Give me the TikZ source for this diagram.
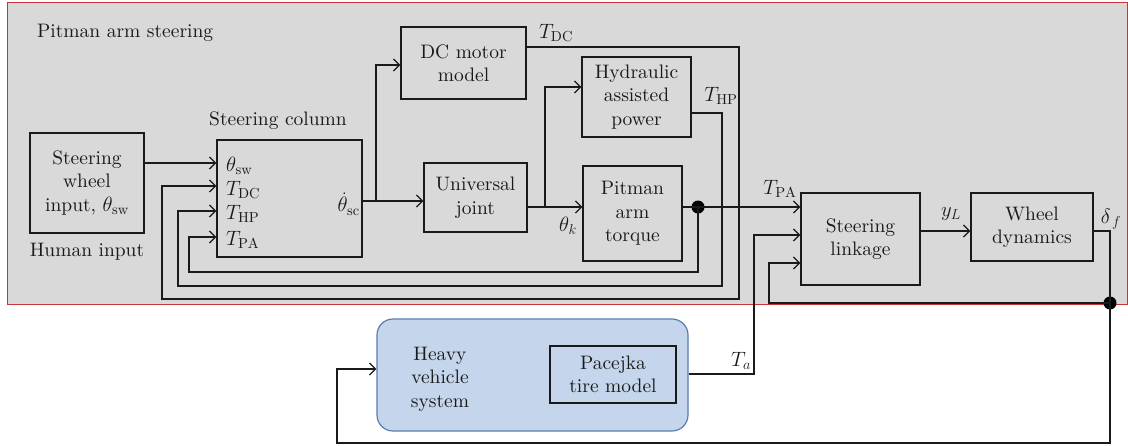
\documentclass[tikz,border=0pt]{standalone}
\usepackage{fontspec}
\setmainfont{lmroman10-regular}[Extension=.otf, ItalicFont=lmroman10-italic, BoldFont=lmroman10-bold, BoldItalicFont=lmroman10-bolditalic]
\DeclareMathSizes{19.5}{19.5}{14.5}{11}
\usetikzlibrary{arrows.meta}
\definecolor{panel}{HTML}{D9D9D9}
\definecolor{panelred}{HTML}{C9343A}
\definecolor{hvfill}{HTML}{C5D6EC}
\definecolor{hvdraw}{HTML}{5B7DB0}
\definecolor{ink}{HTML}{1A1A1A}
\begin{document}
\begin{tikzpicture}[x=1pt,y=-1pt,
  every node/.style={font=\fontsize{19.5}{23.5}\selectfont, inner sep=0pt, text=ink},
  blk/.style={draw=ink, line width=1.3pt, align=center},
  wire/.style={draw=ink, line width=1.3pt},
  arr/.style={wire, -{Straight Barb[length=6pt,width=12pt,line width=1.3pt]}},
  junc/.style={circle, fill=black, minimum size=13pt, inner sep=0pt},
]
\useasboundingbox (0,0) rectangle (1128,445);
% panel
\node[fill=panel, draw=panelred, line width=1pt, minimum width=1120, minimum height=302] (panel) at (567,153) {};
\node[anchor=west] (ptitle) at (37,33) {Pitman arm steering};

% blocks
\node[blk, minimum width=114, minimum height=100] (wheel) at (87,183) {Steering\\wheel\\input, $\theta_{\mathrm{sw}}$};
\node (human) at (87,252) {Human input};
\node[blk, minimum width=145, minimum height=117] (col) at (289.5,198.5) {};
\node (coltitle) at (278,121) {Steering column};
\node[anchor=west] (cin1) at (226,166) {$\theta_{\mathrm{sw}}$};
\node[anchor=west] (cin2) at (226,190) {$T_{\mathrm{DC}}$};
\node[anchor=west] (cin3) at (226,214) {$T_{\mathrm{HP}}$};
\node[anchor=west] (cin4) at (226,240) {$T_{\mathrm{PA}}$};
\node[anchor=east] (cout) at (360,204) {$\dot\theta_{\mathrm{sc}}$};

\node[blk, minimum width=125, minimum height=72] (dc) at (463.5,63) {DC motor\\model};
\node[blk, minimum width=103, minimum height=69] (uj) at (475.5,197.5) {Universal\\joint};
\node[blk, minimum width=109, minimum height=80] (hyd) at (636.5,97) {Hydraulic\\assisted\\power};
\node[blk, minimum width=99, minimum height=95] (pit) at (632.5,213.5) {Pitman\\arm\\torque};
\node[blk, minimum width=119, minimum height=92] (link) at (860.5,239) {Steering\\linkage};
\node[blk, minimum width=122, minimum height=68] (wd) at (1032,227) {Wheel\\dynamics};

\node[draw=hvdraw, fill=hvfill, line width=1.2pt, rounded corners=16pt, minimum width=311, minimum height=112] (hv) at (532.5,375) {};
\node[align=center] (hvtext) at (440,379) {Heavy\\vehicle\\system};
\node[blk, minimum width=126, minimum height=57] (pac) at (613,374.5) {Pacejka\\tire model};

% junctions
\node[junc] (dotPA) at (698,207) {};
\node[junc] (dotDF) at (1110,303) {};

% connectors
\draw[arr] (wheel.east |- 0,163) -- (col.west |- 0,163);
\draw[arr] (dc.east |- 0,47) -| (739,299) -| (162,186) -- (col.west |- 0,186);
\draw[arr] (hyd.east |- 0,113) -| (722,286) -| (178,211) -- (col.west |- 0,211);
\draw[arr] (dotPA.center) -- (698,272) -| (189,237) -- (col.west |- 0,237);
\draw[arr] (col.east |- 0,201) -- (uj.west |- 0,201);
\draw[arr] (376,201) |- (dc.west |- 0,65);
\draw[arr] (uj.east |- 0,207) -- (pit.west |- 0,207);
\draw[arr] (545,207) |- (hyd.west |- 0,87);
\draw[arr] (pit.east |- 0,207) -- (link.west |- 0,207);
\draw[arr] (hv.east |- 0,374) -| (754,235) -- (link.west |- 0,235);
\draw[arr] (link.east |- 0,231) -- (wd.west |- 0,231);
\draw[arr] (wd.east |- 0,231) -| (1110,443) -| (337,369) -- (hv.west |- 0,369);
\draw[arr] (dotDF.center) -| (769,263) -- (link.west |- 0,263);

% signal labels
\node (lTDC) at (556,33) {$T_{\mathrm{DC}}$};
\node (lTHP) at (721,96) {$T_{\mathrm{HP}}$};
\node (lTPA) at (780,189) {$T_{\mathrm{PA}}$};
\node (lthk) at (568,226) {$\theta_k$};
\node (lyL) at (951,214) {$y_L$};
\node (ldf) at (1111,219) {$\delta_{\,f}$};
\node (lTa) at (741,361) {$T_a$};
\end{tikzpicture}
\end{document}
